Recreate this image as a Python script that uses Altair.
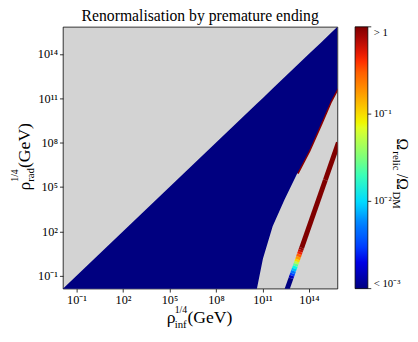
import altair as alt
import pandas as pd

FONT = "Liberation Serif"

# axis range, log10(GeV)
LOG_MIN, LOG_MAX = -1.88, 15.84
tick_exp = [-1, 2, 5, 8, 11, 14]
tick_labels = ["10⁻¹", "10²", "10⁵", "10⁸", "10¹¹", "10¹⁴"]

# blue region (Omega/Omega_DM <= 1e-3): right boundary, log10 values
blue_x = [-1.88, 10.63, 11.03, 11.66, 12.42, 13.25, 14.01, 14.77, 15.40, 15.84]
blue_ylow = [-1.95, -1.95, 0.15, 2.34, 4.14, 5.93, 7.46, 9.26, 10.79, 11.65]

# thin over-abundant edge along the blue boundary
edge_x = [13.25, 14.01, 14.77, 15.40, 15.84]
edge_y = [5.93, 7.46, 9.26, 10.79, 11.65]

# narrow band: centreline points and relic abundance on each segment
band_x = [12.58, 12.84, 12.90, 12.95, 13.01, 13.06, 13.12, 13.17, 13.22,
          13.27, 13.33, 13.38, 13.44, 13.48, 13.53, 15.06, 15.90]
band_y = [-1.95, -1.18, -1.00, -0.85, -0.68, -0.52, -0.35, -0.20, -0.05,
          0.10, 0.28, 0.45, 0.61, 0.75, 0.88, 5.47, 8.00]
band_val = [0.001, 0.0015, 0.003, 0.005, 0.008, 0.013, 0.025, 0.05, 0.1,
            0.17, 0.3, 0.45, 0.65, 0.85, 1.0, 1.0]

cbar_values = [0.001, 0.01, 0.1, 1.0]
cbar_labels = ["< 10⁻³", "10⁻²", "10⁻¹", "> 1"]

jet = ["#000080", "#0000ff", "#0080ff", "#14ffe3", "#7dff7a",
       "#ebff13", "#ff9600", "#ff2200", "#800000"]
cdom = [10 ** (-3 + 3 * i / 8) for i in range(len(jet))]


def gev(a):
    return [10.0 ** v for v in a]


blue_df = pd.DataFrame({"x": gev(blue_x), "ylow": gev(blue_ylow),
                        "yhigh": gev(blue_x)})
edge_df = pd.DataFrame({"x": gev(edge_x), "y": gev(edge_y)})
seg_df = pd.DataFrame({"x": gev(band_x[:-1]), "y": gev(band_y[:-1]),
                       "x2": gev(band_x[1:]), "y2": gev(band_y[1:]),
                       "val": band_val})
cbar_df = pd.DataFrame({"v": cbar_values})

dom = [10 ** LOG_MIN, 10 ** LOG_MAX]
tick_vals = gev(tick_exp)


def label_expr(vals, labels):
    expr = "''"
    for v, l in reversed(list(zip(vals, labels))):
        expr = f"datum.value < {v * 1.5} ? '{l}' : " + expr
    return expr


xscale = alt.Scale(type="log", domain=dom, nice=False)
yscale = alt.Scale(type="log", domain=dom, nice=False)
xaxis = alt.Axis(values=tick_vals, labelExpr=label_expr(tick_vals, tick_labels))
yaxis = alt.Axis(values=tick_vals, labelExpr=label_expr(tick_vals, tick_labels))

color_scale = alt.Scale(type="log", domain=cdom, range=jet, clamp=True)
legend = alt.Legend(orient="none", legendX=298, legendY=0, direction="vertical",
                    gradientLength=267, gradientThickness=13, title=None,
                    values=cbar_values,
                    labelExpr=label_expr(cbar_values, cbar_labels),
                    labelFont=FONT, labelFontSize=11, labelColor="black",
                    labelBaseline="middle", labelOverlap=False, labelOffset=6,
                    gradientStrokeColor="black", gradientStrokeWidth=0.8,
                    padding=0)

edge = alt.Chart(edge_df).mark_line(color="#8b0000", strokeWidth=3, clip=True).encode(
    x=alt.X("x:Q", scale=xscale, axis=xaxis, title=None),
    y=alt.Y("y:Q", scale=yscale, axis=yaxis, title=None),
)

blue = alt.Chart(blue_df).mark_area(color="#000080", clip=True).encode(
    x=alt.X("x:Q", scale=xscale, axis=xaxis, title=None),
    y=alt.Y("ylow:Q", scale=yscale, axis=yaxis, title=None),
    y2="yhigh:Q",
)

band = alt.Chart(seg_df).mark_rule(strokeWidth=5, strokeCap="butt", clip=True).encode(
    x=alt.X("x:Q", scale=xscale, axis=xaxis, title=None),
    y=alt.Y("y:Q", scale=yscale, axis=yaxis, title=None),
    x2="x2:Q",
    y2="y2:Q",
    color=alt.Color("val:Q", scale=color_scale, legend=legend),
)

# colour-bar tick marks on its own log scale
cbar_ticks = alt.Chart(cbar_df).mark_rule(color="black", strokeWidth=0.8).encode(
    x=alt.value(311), x2=alt.value(314.5),
    y=alt.Y("v:Q", scale=alt.Scale(type="log", domain=[0.001, 1.0], nice=False),
            axis=None),
)

dummy = pd.DataFrame({"a": [0]})


def txt(s, x, y, size, angle=0, align="left"):
    return alt.Chart(dummy).mark_text(
        text=s, fontSize=size, font=FONT, angle=angle, align=align,
        baseline="alphabetic", color="black").encode(x=alt.value(x), y=alt.value(y))


texts = [
    txt("Renormalisation by premature ending", 140, -5.5, 16, align="center"),
    # x title
    txt("ρ", 106, 302, 18),
    txt("1/4", 114, 292, 10),
    txt("inf", 114, 307, 11),
    txt("(GeV)", 127, 302, 18),
    # y title
    txt("ρ", -34, 167, 18, angle=270),
    txt("1/4", -46, 158, 10, angle=270),
    txt("rad", -29, 158, 11, angle=270),
    txt("(GeV)", -34, 144, 18, angle=270),
    # colorbar title
    txt("Ω", 341, 114, 16, angle=90),
    txt("relic", 337, 127, 11, angle=90),
    txt("/Ω", 341, 150, 16, angle=90),
    txt("DM", 337, 168, 11, angle=90),
]

main = alt.layer(edge, blue, band, *texts)

chart = alt.layer(main, cbar_ticks).resolve_scale(y="independent").properties(
    width=280, height=267,
    autosize=alt.AutoSizeParams(type="none"),
    padding={"left": 56, "top": 16, "right": 74, "bottom": 40},
).configure_view(
    fill="#d3d3d3", stroke="black", strokeWidth=0.8,
).configure_axis(
    domain=False, grid=False, ticks=True, tickColor="black", tickSize=3.5,
    tickWidth=0.8, labelFont=FONT, labelFontSize=12.5, labelColor="black",
    labelPadding=2,
)

chart.save("out.html", embed_options={"renderer": "svg", "actions": False})
